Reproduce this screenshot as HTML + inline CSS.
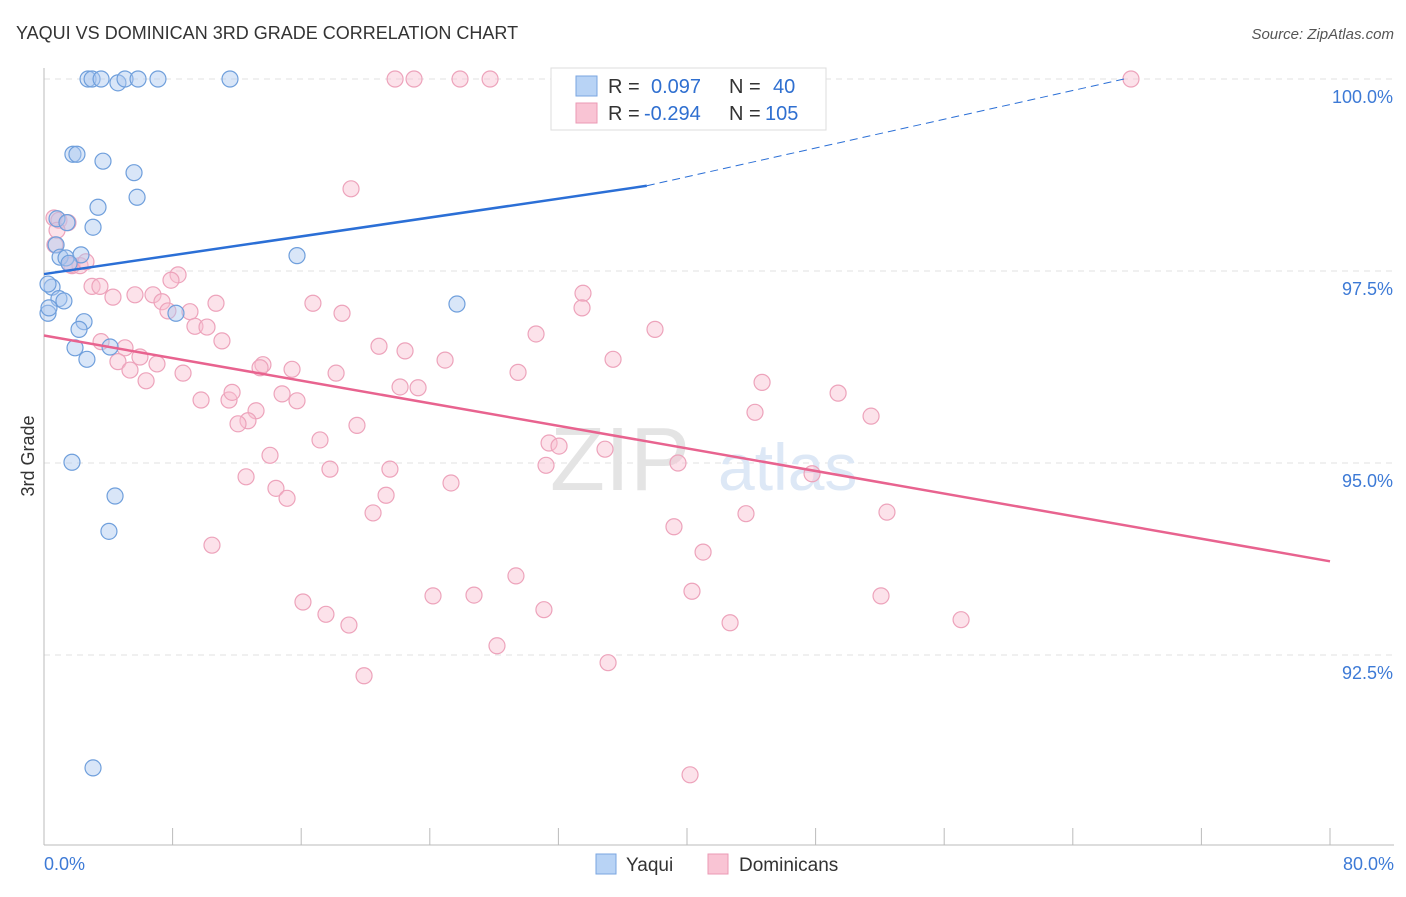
<!DOCTYPE html>
<html><head><meta charset="utf-8"><style>
body{margin:0;background:#fff;font-family:"Liberation Sans",sans-serif;}
svg text{font-family:"Liberation Sans",sans-serif;}
</style></head><body>
<svg id="chart" width="1406" height="892" xmlns="http://www.w3.org/2000/svg">
<text x="16" y="39" font-size="18" fill="#333">YAQUI VS DOMINICAN 3RD GRADE CORRELATION CHART</text>
<text x="1394" y="39" font-size="15" fill="#555" text-anchor="end" font-style="italic">Source: ZipAtlas.com</text>
<text x="34" y="456" font-size="18" fill="#333" text-anchor="middle" transform="rotate(-90 34 456)">3rd Grade</text>
<g id="grid"></g>
<g id="axes"></g>
<text x="550" y="490" font-size="90" fill="#e4e4e4" font-family="Liberation Serif">ZIP</text>
<text x="718" y="490" font-size="66" fill="#dde8f6">atlas</text>
<g id="pts"></g>
<g id="trends"></g>
<g>
<rect x="551" y="68" width="275" height="62" fill="#fff" stroke="#ddd"/>
<rect x="576" y="76" width="21" height="20" fill="#b8d3f5" stroke="#7aa6e0"/>
<rect x="576" y="103" width="21" height="20" fill="#f9c4d4" stroke="#eb9ab4"/>
<text x="608" y="93" font-size="20" fill="#333">R = </text><text x="651" y="93" font-size="20" fill="#2f6fd0">0.097</text>
<text x="729" y="93" font-size="20" fill="#333">N = </text><text x="773" y="93" font-size="20" fill="#2f6fd0">40</text>
<text x="608" y="120" font-size="20" fill="#333">R = </text><text x="644" y="120" font-size="20" fill="#2f6fd0">-0.294</text>
<text x="729" y="120" font-size="20" fill="#333">N = </text><text x="765" y="120" font-size="20" fill="#2f6fd0">105</text>
</g>
<g>
<rect x="596" y="854" width="20" height="20" fill="#b8d3f5" stroke="#7aa6e0"/>
<text x="626" y="871" font-size="19" fill="#333">Yaqui</text>
<rect x="708" y="854" width="20" height="20" fill="#f9c4d4" stroke="#eb9ab4"/>
<text x="739" y="871" font-size="19" fill="#333">Dominicans</text>
</g>
</svg>
<script>
const yTicks=[100,97.5,95,92.5];
const yTickLabels=["100.0%","97.5%","95.0%","92.5%"];
const xTickLabels=["0.0%","80.0%"];
const yaquiX=[2.74,2.99,3.55,4.60,5.04,5.85,7.09,11.57,1.80,2.05,3.67,5.60,5.79,3.36,3.05,0.81,1.43,0.75,1.00,1.37,2.30,1.56,15.74,0.50,0.25,0.93,1.24,25.69,0.25,0.31,2.49,2.18,1.93,4.11,2.67,8.21,1.74,4.42,4.04,3.05];
const yaquiY=[100,100,100,99.95,100,100,100,100,99.02,99.02,98.93,98.78,98.46,98.33,98.07,98.18,98.13,97.84,97.68,97.67,97.71,97.60,97.70,97.29,97.33,97.14,97.11,97.07,96.95,97.02,96.84,96.74,96.50,96.51,96.35,96.95,95.01,94.57,94.11,91.03];
const domX=[21.84,23.02,25.88,27.75,32.47,67.62,19.10,0.62,0.93,1.49,0.81,0.68,1.74,2.24,2.61,1.62,8.34,2.99,3.48,4.29,5.66,6.78,7.34,7.90,7.71,9.08,10.70,16.73,18.54,33.53,33.47,30.61,38.01,9.39,10.14,11.07,3.55,5.04,5.97,4.60,7.03,5.35,6.35,8.65,13.62,13.44,15.43,18.17,20.84,22.46,24.95,29.49,35.40,22.15,23.27,44.67,49.40,9.77,11.51,11.70,14.81,15.74,13.19,12.69,12.07,19.47,17.17,31.42,32.04,34.90,44.23,51.45,14.06,12.57,17.79,21.52,31.23,39.44,47.78,14.43,15.12,21.28,25.32,20.47,39.19,43.67,52.44,41.00,10.45,29.36,16.11,17.54,24.20,26.75,31.10,40.31,52.07,18.97,42.68,57.05,28.18,35.09,19.91,40.19];
const domY=[100,100,100,100,100,100,98.57,98.19,98.16,98.13,98.03,97.84,97.57,97.57,97.62,97.58,97.45,97.30,97.30,97.16,97.19,97.19,97.10,97.38,96.98,96.97,97.08,97.08,96.95,97.21,97.02,96.68,96.74,96.78,96.77,96.59,96.58,96.50,96.38,96.32,96.29,96.21,96.07,96.17,96.28,96.24,96.22,96.17,96.52,96.46,96.34,96.18,96.35,95.99,95.98,96.05,95.91,95.82,95.82,95.92,95.90,95.81,95.68,95.55,95.51,95.49,95.30,95.26,95.22,95.18,95.66,95.61,95.10,94.82,94.92,94.92,94.97,95.00,94.86,94.67,94.54,94.58,94.74,94.35,94.17,94.34,94.36,93.84,93.93,93.53,93.19,93.03,93.27,93.28,93.09,93.33,93.27,92.89,92.92,92.96,92.62,92.40,92.23,90.94];
const yaquiTrend=[0,97.46,37.5,98.61,67.2,100];
const domTrend=[0,96.66,80,93.72];
const X=v=>44+v/80*1286, Y=v=>79+(100-v)/2.5*192;
const NS="http://www.w3.org/2000/svg";
function mk(tag,attrs,parent){const e=document.createElementNS(NS,tag);for(const k in attrs)e.setAttribute(k,attrs[k]);parent.appendChild(e);return e;}
const grid=document.getElementById('grid'),axes=document.getElementById('axes');
yTicks.forEach((t,i)=>{
 const l=mk('line',{x1:44,x2:1394,y1:Y(t),y2:Y(t),stroke:'#e2e2e2','stroke-dasharray':'6,5'},grid);
 
 
 const tx=mk('text',{x:1393,y:Y(t)+24,'font-size':18,fill:'#3d7ad6','text-anchor':'end'},axes);
 tx.textContent=yTickLabels[i];
 
 
});
const ax=mk('line',{x1:44,x2:44,y1:68,y2:845,stroke:'#bbb'},axes);


const bx=mk('line',{x1:44,x2:1394,y1:845,y2:845,stroke:'#bbb'},axes);


for(let i=0;i<=10;i++){const v=i*8;
 const t=mk('line',{x1:X(v),x2:X(v),y1:828,y2:845,stroke:'#bbb'},axes);
 
 
}
[[0,'start',44],[80,'end',1394]].forEach((d,i)=>{
 const tx=mk('text',{x:d[2],y:870,'font-size':18,fill:'#3d7ad6','text-anchor':d[1]},axes);
 tx.textContent=xTickLabels[i];
 
 
});
const pts=document.getElementById('pts');
domX.forEach((x,i)=>{
 const c=mk('circle',{cx:X(x),cy:Y(domY[i]),r:8,fill:'rgba(248,190,208,0.45)',stroke:'#eda3bb','stroke-width':1.2},pts);
 
 
});
yaquiX.forEach((x,i)=>{
 const c=mk('circle',{cx:X(x),cy:Y(yaquiY[i]),r:8,fill:'rgba(170,200,240,0.45)',stroke:'#6f9fdc','stroke-width':1.2},pts);
 
 
});
const tr=document.getElementById('trends');
const b1=mk('line',{x1:X(yaquiTrend[0]),y1:Y(yaquiTrend[1]),x2:X(yaquiTrend[2]),y2:Y(yaquiTrend[3]),stroke:'#2b6fd6','stroke-width':2.5},tr);


const b2=mk('line',{x1:X(yaquiTrend[2]),y1:Y(yaquiTrend[3]),x2:X(yaquiTrend[4]),y2:Y(yaquiTrend[5]),stroke:'#2b6fd6','stroke-width':1,'stroke-dasharray':'8,5'},tr);


const p1=mk('line',{x1:X(domTrend[0]),y1:Y(domTrend[1]),x2:X(domTrend[2]),y2:Y(domTrend[3]),stroke:'#e8638f','stroke-width':2.5},tr);


</script>
</body></html>
